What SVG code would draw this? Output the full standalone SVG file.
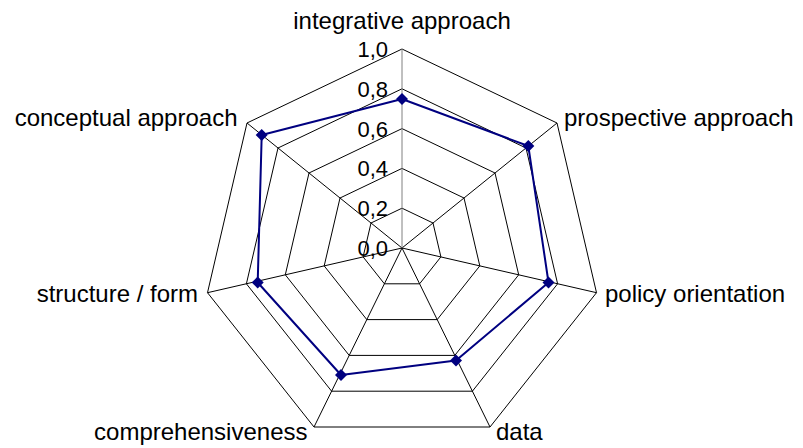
<svg xmlns="http://www.w3.org/2000/svg" width="803" height="448" viewBox="0 0 803 448">
  <style>
    .lbl { font-family: "Liberation Sans", Arial, sans-serif; font-size: 24px; fill: #000; }
    .tick { font-family: "Liberation Sans", Arial, sans-serif; font-size: 22px; fill: #000; text-anchor: end; }
    .ring { fill: none; stroke: #000; stroke-width: 1; }
    .spoke { stroke: #000; stroke-width: 1; }
    .vaxis { stroke: #808080; stroke-width: 1; }
    .series { fill: none; stroke: #000080; stroke-width: 2; stroke-linejoin: round; }
    .mk { fill: #000080; }
  </style>
  <defs>
    <path id="dia" d="M0,-6 L6,0 L0,6 L-6,0 Z" class="mk"/>
  </defs>
  <rect width="803" height="448" fill="#fff"/>
  <g id="grid">
    <polygon class="ring" points="402,208.2 433,223 440.9,256.9 419.6,283.8 384.4,283.8 363.1,256.9 371,223"/>
    <polygon class="ring" points="402,168.4 464,198 479.8,265.9 437.2,319.6 366.8,319.6 324.2,265.9 340,198"/>
    <polygon class="ring" points="402,128.6 495,173 518.7,274.8 454.8,355.4 349.2,355.4 285.3,274.8 309,173"/>
    <polygon class="ring" points="402,88.8 526,148 557.6,283.8 472.4,391.2 331.6,391.2 246.4,283.8 278,148"/>
    <polygon class="ring" points="402,49 557,123 596.5,292.7 490,427 314,427 207.5,292.7 247,123"/>
  </g>
  <g id="connectors">
    <line class="spoke" x1="402" y1="248" x2="557" y2="123"/>
    <line class="spoke" x1="402" y1="248" x2="596.5" y2="292.7"/>
    <line class="spoke" x1="402" y1="248" x2="490" y2="427"/>
    <line class="spoke" x1="402" y1="248" x2="314" y2="427"/>
    <line class="spoke" x1="402" y1="248" x2="207.5" y2="292.7"/>
    <line class="spoke" x1="402" y1="248" x2="247" y2="123"/>
    <line class="vaxis" x1="402" y1="248" x2="402" y2="49"/>
  </g>
  <g id="ticks">
    <text class="tick" x="388" y="56.9">1,0</text>
    <text class="tick" x="388" y="96.7">0,8</text>
    <text class="tick" x="388" y="136.5">0,6</text>
    <text class="tick" x="388" y="176.3">0,4</text>
    <text class="tick" x="388" y="216.1">0,2</text>
    <text class="tick" x="388" y="255.9">0,0</text>
  </g>
  <g id="series">
    <polygon class="series" points="402,99 528.3,146 548.5,282.5 456,360.5 341,375 257.7,282.5 261.7,135"/>
    <use href="#dia" x="402" y="99"/>
    <use href="#dia" x="528.3" y="146"/>
    <use href="#dia" x="548.5" y="282.5"/>
    <use href="#dia" x="456" y="360.5"/>
    <use href="#dia" x="341" y="375"/>
    <use href="#dia" x="257.7" y="282.5"/>
    <use href="#dia" x="261.7" y="135"/>
  </g>
  <g id="node-integrative"><text class="lbl" x="402" y="29" text-anchor="middle">integrative approach</text></g>
  <g id="node-prospective"><text class="lbl" x="564" y="126">prospective approach</text></g>
  <g id="node-policy"><text class="lbl" x="605" y="302">policy orientation</text></g>
  <g id="node-data"><text class="lbl" x="496" y="440">data</text></g>
  <g id="node-comprehensiveness"><text class="lbl" x="307.5" y="440" text-anchor="end">comprehensiveness</text></g>
  <g id="node-structure"><text class="lbl" x="198" y="302" text-anchor="end">structure / form</text></g>
  <g id="node-conceptual"><text class="lbl" x="237.5" y="126" text-anchor="end">conceptual approach</text></g>
</svg>
